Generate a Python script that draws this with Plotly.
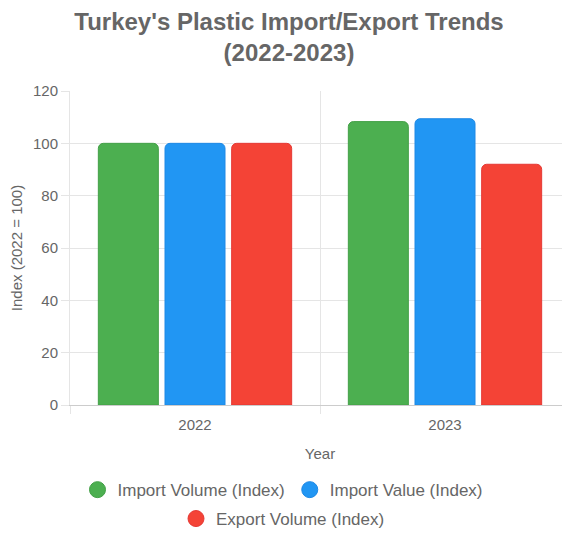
import plotly.graph_objects as go

# Data
years = ["2022", "2023"]
import_volume = [100, 108.3]
import_value = [100, 109.4]
export_volume = [100, 92.0]

series = [
    ("Import Volume (Index)", import_volume, "#4CAF50", "#43A047", "legend"),
    ("Import Value (Index)", import_value, "#2196F3", "#1E88E5", "legend"),
    ("Export Volume (Index)", export_volume, "#F44336", "#E53935", "legend2"),
]

FONT = "Liberation Sans, Arial, sans-serif"
TEXT = "#666666"
GRID = "#e5e5e5"

fig = go.Figure()

for name, values, color, edge, leg in series:
    fig.add_trace(go.Bar(
        x=years,
        y=values,
        name=name,
        marker=dict(color=color, line=dict(color=edge, width=1), cornerradius=5),
        showlegend=False,
        hovertemplate="%{x}: %{y}<extra>" + name + "</extra>",
    ))
    # legend entry with a round marker, as in the reference
    fig.add_trace(go.Scatter(
        x=[None],
        y=[None],
        mode="markers",
        name=name,
        legend=leg,
        marker=dict(color=color, size=16, symbol="circle",
                    line=dict(color=edge, width=1)),
    ))

# legends are centred on the whole canvas, not on the plot area
legend_style = dict(
    orientation="h",
    x=0.426,
    xanchor="center",
    yanchor="middle",
    font=dict(size=17, color=TEXT),
    itemwidth=30,
    bgcolor="rgba(0,0,0,0)",
)

# the page body has an 8px margin, so the figure is 8px smaller and offset
fig.update_layout(
    width=562,
    height=534,
    margin=dict(l=62, r=0, t=83, b=137),
    paper_bgcolor="white",
    plot_bgcolor="white",
    font=dict(family=FONT, color=TEXT, size=15),
    title=dict(
        text="<b>Turkey's Plastic Import/Export Trends<br>(2022-2023)</b>",
        x=0.5,
        xanchor="center",
        y=0.959,
        yanchor="middle",
        font=dict(family=FONT, size=24, color=TEXT),
    ),
    barmode="group",
    bargap=0.2,
    bargroupgap=0.1,
    legend=dict(legend_style, y=-0.271),
    legend2=dict(legend_style, y=-0.363),
    xaxis=dict(
        type="category",
        tickson="boundaries",
        showgrid=True,
        gridcolor=GRID,
        ticks="outside",
        ticklen=8,
        tickcolor=GRID,
        ticklabelstandoff=6,
        showline=True,
        linecolor="#cccccc",
        automargin=False,
        title=dict(text="Year", font=dict(size=15, color=TEXT), standoff=16),
        tickfont=dict(size=15, color=TEXT),
    ),
    yaxis=dict(
        range=[0, 120],
        dtick=20,
        showgrid=True,
        gridcolor=GRID,
        zeroline=False,
        ticks="outside",
        ticklen=8,
        tickcolor=GRID,
        showline=True,
        linecolor=GRID,
        automargin=False,
        title=dict(text="Index (2022 = 100)", font=dict(size=15, color=TEXT), standoff=12),
        tickfont=dict(size=15, color=TEXT),
    ),
)

fig.write_html("out.html")
